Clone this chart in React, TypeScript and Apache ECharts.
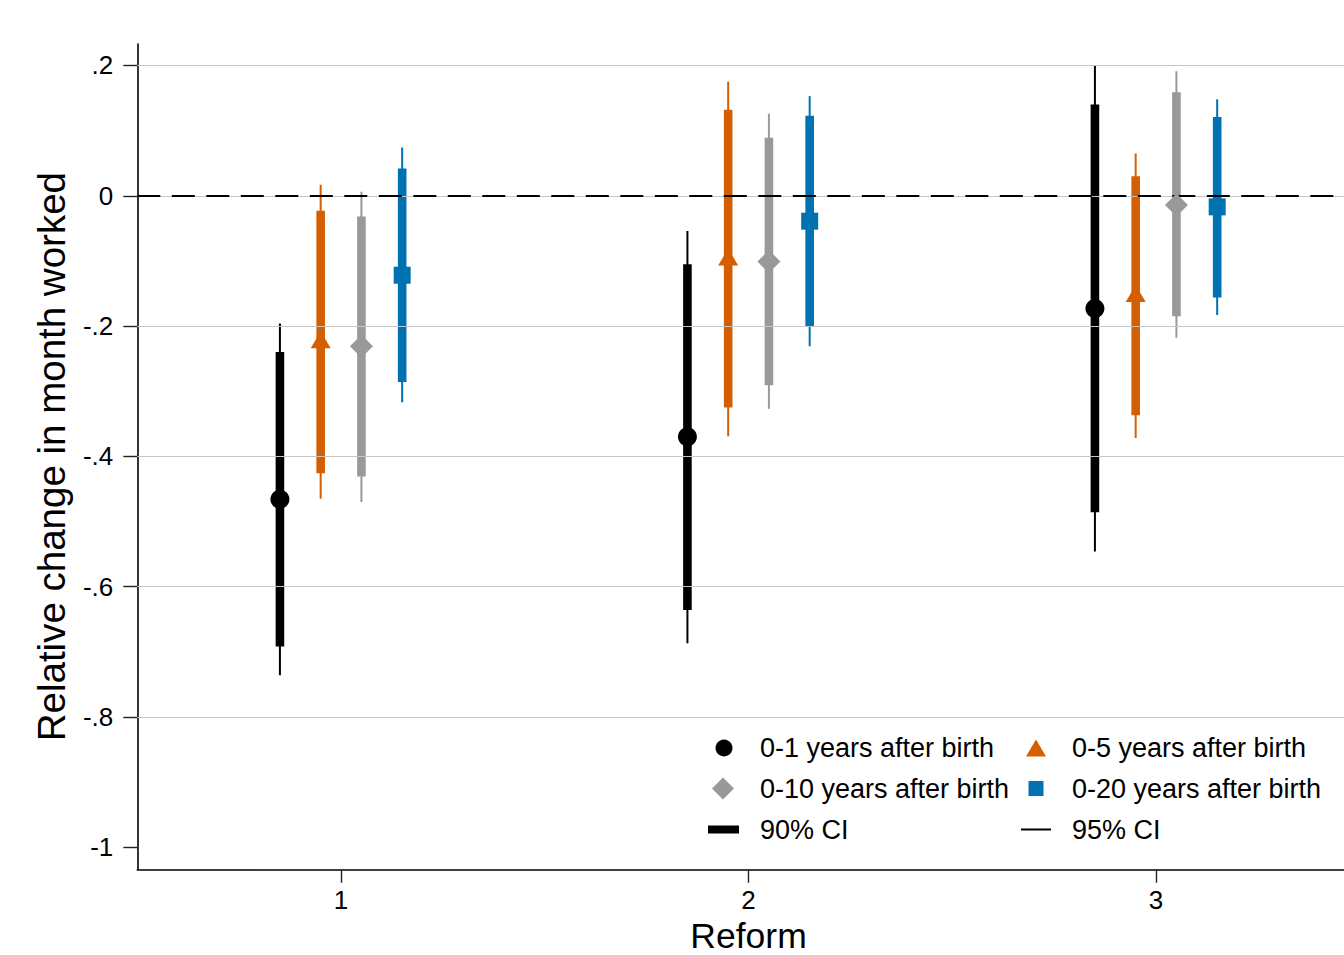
import React, { useEffect, useRef } from 'react';
import * as echarts from 'echarts';

// ---------- data ----------
const reforms = [1, 2, 3];
const groupNames = [
  '0-1 years after birth',
  '0-5 years after birth',
  '0-10 years after birth',
  '0-20 years after birth',
];
const groupColors = ['#000000', '#d55e00', '#999999', '#0072b2'];

// point estimates
const est01 = [-0.466, -0.37, -0.173];
const est05 = [-0.221, -0.094, -0.15];
const est10 = [-0.231, -0.101, -0.014];
const est20 = [-0.122, -0.039, -0.017];

// 90% CI
const lo90_01 = [-0.692, -0.636, -0.486];
const hi90_01 = [-0.24, -0.105, 0.14];
const lo90_05 = [-0.426, -0.325, -0.337];
const hi90_05 = [-0.023, 0.132, 0.03];
const lo90_10 = [-0.431, -0.291, -0.185];
const hi90_10 = [-0.032, 0.089, 0.159];
const lo90_20 = [-0.286, -0.2, -0.156];
const hi90_20 = [0.042, 0.123, 0.121];

// 95% CI
const lo95_01 = [-0.736, -0.687, -0.546];
const hi95_01 = [-0.196, -0.054, 0.2];
const lo95_05 = [-0.465, -0.369, -0.372];
const hi95_05 = [0.017, 0.175, 0.065];
const lo95_10 = [-0.47, -0.327, -0.218];
const hi95_10 = [0.006, 0.126, 0.191];
const lo95_20 = [-0.317, -0.231, -0.183];
const hi95_20 = [0.074, 0.153, 0.148];

const xTicks = [1, 2, 3];
const yTicks = [-1, -0.8, -0.6, -0.4, -0.2, 0, 0.2];
const yGridLines = [-0.8, -0.6, -0.4, -0.2, 0, 0.2];

// ---------- layout helpers ----------
const offsets = [-0.15, -0.05, 0.05, 0.15];
const estimates = [est01, est05, est10, est20];
const lo90 = [lo90_01, lo90_05, lo90_10, lo90_20];
const hi90 = [hi90_01, hi90_05, hi90_10, hi90_20];
const lo95 = [lo95_01, lo95_05, lo95_10, lo95_20];
const hi95 = [hi95_01, hi95_05, hi95_10, hi95_20];

const FONT = '"Liberation Sans", Arial, Helvetica, sans-serif';

function ciData(lo: number[][], hi: number[][]) {
  const out: number[][] = [];
  for (let g = 0; g < 4; g++) {
    for (let r = 0; r < reforms.length; r++) {
      out.push([reforms[r] + offsets[g], lo[g][r], hi[g][r], g]);
    }
  }
  return out;
}

function makeCiRender(width: number) {
  return (params: any, api: any) => {
    const x = api.value(0);
    const lo = api.value(1);
    const hi = api.value(2);
    const g = api.value(3);
    const pTop = api.coord([x, hi]);
    const pBot = api.coord([x, lo]);
    return {
      type: 'rect',
      shape: {
        x: pTop[0] - width / 2,
        y: pTop[1],
        width: width,
        height: pBot[1] - pTop[1],
      },
      style: { fill: groupColors[g] },
    };
  };
}

function fmtY(v: number) {
  const r = Math.round(v * 10) / 10;
  if (r === 0) return '0';
  let s = String(r);
  s = s.replace('0.', '.');
  return s;
}

const symbols = ['circle', 'triangle', 'diamond', 'rect'];
const symbolSizes: any[] = [19, [20, 17], [23, 23], [17, 17]];

export default function App() {
  const ref = useRef<HTMLDivElement>(null);

  useEffect(() => {
    document.body.style.margin = '0';
    if (!ref.current) return;
    const chart = echarts.init(ref.current, undefined, { renderer: 'svg' });

    const scatterSeries = groupNames.map((name, g) => ({
      name,
      type: 'scatter',
      z: 5,
      symbol: symbols[g],
      symbolSize: symbolSizes[g],
      itemStyle: { color: groupColors[g], opacity: 1 },
      data: reforms.map((r, i) => [r + offsets[g], estimates[g][i]]),
      silent: true,
    }));

    const legendText = (pad: number) => ({
      fontSize: 27,
      color: '#000',
      fontFamily: FONT,
      padding: [0, 0, 0, pad],
    });

    const option: any = {
      animation: false,
      backgroundColor: '#ffffff',
      textStyle: { fontFamily: FONT },
      grid: {
        left: 137.3,
        right: -15.8,
        top: 44,
        bottom: 85.7,
        containLabel: false,
        outerBoundsMode: 'none',
      },
      xAxis: {
        type: 'value',
        min: 0.5,
        max: 3.5,
        name: 'Reform',
        nameLocation: 'middle',
        nameGap: 53.5,
        nameMoveOverlap: false,
        nameTextStyle: { fontSize: 35.5, lineHeight: 26, color: '#000', fontFamily: FONT },
        axisLine: { show: true, onZero: false, lineStyle: { color: '#000', width: 1.6 } },
        axisTick: {
          show: true,
          customValues: xTicks,
          length: 13.5,
          lineStyle: { color: '#222', width: 1.4 },
        },
        axisLabel: {
          customValues: xTicks,
          fontSize: 26,
          color: '#000',
          margin: 18,
          fontFamily: FONT,
        },
        splitLine: { show: false },
      },
      yAxis: {
        type: 'value',
        min: -1.034,
        max: 0.233,
        name: 'Relative change in month worked',
        nameLocation: 'middle',
        nameGap: 66,
        nameMoveOverlap: false,
        nameTextStyle: { fontSize: 38.5, color: '#000', fontFamily: FONT },
        axisLine: { show: true, onZero: false, lineStyle: { color: '#000', width: 1.6 } },
        axisTick: {
          show: true,
          customValues: yTicks,
          length: 14,
          lineStyle: { color: '#222', width: 1.4 },
        },
        axisLabel: {
          customValues: yTicks,
          fontSize: 26,
          color: '#000',
          margin: 24,
          fontFamily: FONT,
          formatter: (v: number) => fmtY(v),
        },
        splitLine: { show: false },
      },
      legend: [
        {
          data: [{ name: groupNames[0], icon: 'circle' }],
          left: 715.5, top: 734.5, itemWidth: 17, itemHeight: 17,
          padding: 0, selectedMode: false, textStyle: legendText(22.5),
        },
        {
          data: [{ name: groupNames[2], icon: 'diamond' }],
          left: 712, top: 775, itemWidth: 22, itemHeight: 22,
          padding: 0, selectedMode: false, textStyle: legendText(21),
        },
        {
          data: [{ name: '90% CI', icon: 'rect', itemStyle: { color: '#000' } }],
          left: 708, top: 816, itemWidth: 31, itemHeight: 8,
          padding: 0, selectedMode: false, textStyle: legendText(16),
        },
        {
          data: [{ name: groupNames[1], icon: 'triangle' }],
          left: 1026, top: 734.5, itemWidth: 20, itemHeight: 17,
          padding: 0, selectedMode: false, textStyle: legendText(21),
        },
        {
          data: [{ name: groupNames[3], icon: 'rect' }],
          left: 1028.5, top: 775, itemWidth: 15, itemHeight: 15,
          padding: 0, selectedMode: false, textStyle: legendText(23.5),
        },
        {
          data: [{ name: '95% CI', icon: 'rect', itemStyle: { color: '#000' } }],
          left: 1021, top: 816, itemWidth: 30, itemHeight: 2,
          padding: 0, selectedMode: false, textStyle: legendText(16),
        },
      ],
      series: [
        {
          name: 'gridlines',
          type: 'line',
          data: [],
          z: 1,
          silent: true,
          markLine: {
            silent: true,
            symbol: ['none', 'none'],
            label: { show: false },
            lineStyle: { color: '#c6c6c6', width: 1, type: 'solid' },
            data: [
              ...yGridLines.map((v) => ({ yAxis: v })),
              {
                yAxis: 0,
                lineStyle: { color: '#000', width: 2, type: [23, 11.5] },
              },
            ],
          },
        },
        {
          name: '95% CI',
          type: 'custom',
          z: 3,
          itemStyle: { color: '#000' },
          renderItem: makeCiRender(2),
          encode: { x: 0, y: [1, 2] },
          data: ciData(lo95, hi95),
          silent: true,
        },
        {
          name: '90% CI',
          type: 'custom',
          z: 4,
          itemStyle: { color: '#000' },
          renderItem: makeCiRender(8.6),
          encode: { x: 0, y: [1, 2] },
          data: ciData(lo90, hi90),
          silent: true,
        },
        ...scatterSeries,
      ],
    };

    chart.setOption(option);
    return () => {
      chart.dispose();
    };
  }, []);

  return <div ref={ref} style={{ width: 1344, height: 955 }} />;
}
